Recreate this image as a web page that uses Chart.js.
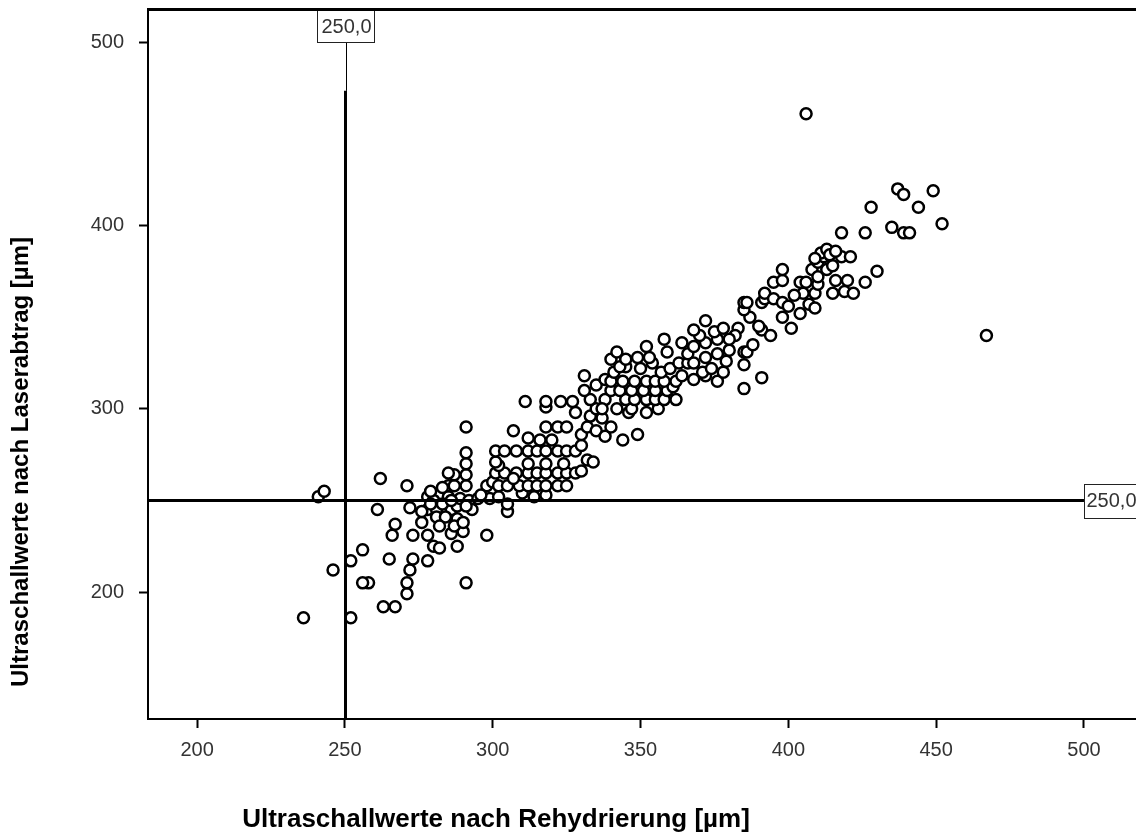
<!DOCTYPE html>
<html>
<head>
<meta charset="utf-8">
<script src="https://cdn.jsdelivr.net/npm/chart.js@4.4.1/dist/chart.umd.min.js"></script>
<style>
  html, body { margin: 0; padding: 0; background: #fff; }
  #wrap { width: 1136px; height: 834px; }
</style>
</head>
<body>
<div id="wrap"><canvas id="chart" width="1136" height="834"></canvas></div>
<script>
// Axis setup
const xTicks = [200, 250, 300, 350, 400, 450, 500];
const yTicks = [200, 300, 400, 500];
const xRange = [183.4, 517.6];
const yRange = [130.7, 517.9];
const cutValue = 250;
const cutLabel = '250,0';
const xTitle = 'Ultraschallwerte nach Rehydrierung [µm]';
const yTitle = 'Ultraschallwerte nach Laserabtrag [µm]';

const lowerPoints = [
  [236,186],[252,186],[263,192],[267,192],[258,205],[256,205],[271,199],[271,205],[291,205],
  [246,212],[272,212],[252,217],[265,218],[273,218],[278,217],[256,223],[280,225],[282,224],
  [288,225],[266,231],[273,231],[278,231],[286,232],[290,233],[298,231],[267,237],[276,238],
  [288,240],[261,245],[272,246],[278,245],[281,245],[286,245],[276,244],[281,241],[288,247],
  [241,252],[243,255],[278,252],[285,252],[280,250],[283,248],[289,251],[292,250],[295,251],
  [262,262],[271,258],[285,258],[287,258],[291,258],[298,258],[287,264],[291,264],[285,265],
  [291,270],[291,276],[291,290],[299,251],[296,253],[279,255],[283,257],[284,241],[287,236],
  [290,238],[293,245],[282,236],[279,248],[286,250],[291,247]
];

const middlePoints = [
  [302,252],[305,244],[305,248],[310,254],[314,252],[318,253],[300,260],[302,258],[305,258],
  [309,258],[312,258],[315,258],[318,258],[322,258],[325,258],[301,265],[304,265],[308,265],
  [312,265],[315,265],[318,265],[322,265],[325,265],[328,265],[307,262],[312,270],[318,270],
  [324,270],[302,269],[301,271],[330,266],[332,272],[334,271],[301,277],[304,277],[308,277],
  [312,277],[315,277],[318,277],[322,277],[325,277],[328,277],[312,284],[316,283],[320,283],
  [330,280],[330,286],[307,288],[318,290],[322,290],[325,290],[332,290],[333,296],[328,298],
  [318,301],[311,304],[318,304],[323,304],[327,304],[335,300],[333,305],[331,310],[335,313],
  [331,318],[338,316],[338,305],[340,310],[335,288],[338,285],[344,283],[349,286],[340,290],
  [337,295],[337,300],[342,300],[346,298],[347,300],[352,298],[356,300],[345,305],[348,305],
  [352,305],[355,305],[358,305],[362,305],[343,310],[347,310],[351,310],[355,310],[359,310],
  [361,312],[340,315],[344,315],[348,315],[352,315],[355,315],[358,315],[362,315],[341,320],
  [357,320],[345,323],[350,322],[360,322],[343,323],[354,325],[363,325],[340,327],[345,327],
  [349,328],[353,328],[342,331],[352,334],[359,331],[358,338],[364,318]
];

const upperPoints = [
  [366,325],[366,330],[368,316],[372,318],[376,315],[371,320],[374,322],[378,320],[368,325],
  [372,328],[376,330],[379,326],[368,334],[372,336],[376,338],[364,336],[370,340],[375,342],
  [368,343],[372,348],[378,344],[383,344],[380,332],[382,340],[380,338],[385,331],[385,324],
  [391,317],[385,311],[386,331],[388,335],[391,343],[394,340],[390,345],[387,350],[385,354],
  [385,358],[386,358],[391,358],[392,360],[392,363],[395,360],[395,369],[398,358],[398,350],
  [401,344],[398,370],[398,376],[404,369],[406,369],[405,363],[409,363],[415,363],[419,364],
  [422,363],[407,357],[409,355],[404,352],[400,356],[402,362],[410,368],[408,376],[413,376],
  [416,370],[420,370],[410,372],[415,378],[410,380],[412,383],[411,385],[413,387],[418,383],
  [421,383],[426,369],[430,375],[414,384],[416,386],[409,382]
];

const topPoints = [
  [406,461],[437,420],[439,417],[449,419],[444,410],[428,410],[452,401],[418,396],[426,396],
  [435,399],[439,396],[441,396],[467,340]
];

const allPoints = [...lowerPoints, ...middlePoints, ...upperPoints, ...topPoints]
  .map(([x, y]) => ({ x, y }));

const FONT = "Arial, 'Liberation Sans', sans-serif";

// Reference lines at 250 with boxed labels, plus the top frame line
const refLines = {
  id: 'refLines',
  afterDatasetsDraw(chart) {
    const { ctx, chartArea: a, scales: { x, y } } = chart;
    const px = Math.round(x.getPixelForValue(cutValue)) + 0.5;
    const py = Math.round(y.getPixelForValue(cutValue)) + 0.5;
    ctx.save();
    ctx.strokeStyle = '#000';

    // vertical line, thin stub up to the label box
    const boxBottom = y.getPixelForValue(500);
    const thickTop = y.getPixelForValue(473.5);
    ctx.lineWidth = 3;
    ctx.beginPath();
    ctx.moveTo(px, a.bottom);
    ctx.lineTo(px, thickTop);
    ctx.stroke();
    ctx.lineWidth = 1;
    ctx.beginPath();
    ctx.moveTo(px + 1, thickTop);
    ctx.lineTo(px + 1, boxBottom);
    ctx.stroke();

    // horizontal line up to x = 500
    const lineEnd = x.getPixelForValue(500);
    ctx.lineWidth = 3;
    ctx.beginPath();
    ctx.moveTo(a.left, py);
    ctx.lineTo(lineEnd, py);
    ctx.stroke();

    ctx.font = '20px ' + FONT;
    ctx.textBaseline = 'middle';
    ctx.fillStyle = '#fff';
    ctx.lineWidth = 1;
    ctx.strokeStyle = '#222';

    // top label box
    const w1 = 57, h1 = 32;
    const bx = Math.round(px - w1 / 2) + 0.5, by = Math.round(boxBottom - h1) + 0.5;
    ctx.fillRect(bx, by, w1, h1);
    ctx.strokeRect(bx, by, w1, h1);
    ctx.fillStyle = '#333';
    ctx.textAlign = 'center';
    ctx.fillText(cutLabel, px + 1, by + h1 / 2 + 1);

    // right label box
    const h2 = 34;
    const rx = Math.round(lineEnd) + 0.5, ry = Math.round(py - h2 / 2) + 0.5;
    ctx.fillStyle = '#fff';
    ctx.fillRect(rx, ry, 80, h2);
    ctx.strokeRect(rx, ry, 80, h2);
    ctx.fillStyle = '#333';
    ctx.textAlign = 'left';
    ctx.fillText(cutLabel, rx + 2, py + 1);

    // top frame line
    ctx.strokeStyle = '#000';
    ctx.lineWidth = 3;
    ctx.beginPath();
    ctx.moveTo(a.left - 1, a.top);
    ctx.lineTo(a.right, a.top);
    ctx.stroke();
    ctx.restore();
  },
  afterDraw(chart) {
    const { ctx } = chart;
    ctx.save();
    ctx.fillStyle = '#000';
    ctx.textBaseline = 'alphabetic';
    ctx.textAlign = 'center';
    ctx.font = 'bold 26px ' + FONT;
    ctx.fillText(xTitle, 496, 827);
    ctx.font = 'bold 24px ' + FONT;
    ctx.translate(28, 462);
    ctx.rotate(-Math.PI / 2);
    ctx.fillText(yTitle, 0, 0);
    ctx.restore();
  }
};

new Chart(document.getElementById('chart'), {
  type: 'scatter',
  data: {
    datasets: [{
      data: allPoints,
      pointStyle: 'circle',
      pointRadius: 5.5,
      pointBorderWidth: 2.5,
      pointBorderColor: '#000',
      pointBackgroundColor: '#fff'
    }]
  },
  options: {
    responsive: false,
    devicePixelRatio: 1,
    animation: false,
    layout: { autoPadding: false, padding: { top: 9.5, right: 0, bottom: 0, left: 0 } },
    plugins: {
      legend: { display: false },
      title: { display: false },
      tooltip: { enabled: false }
    },
    scales: {
      x: {
        type: 'linear',
        min: xRange[0],
        max: xRange[1],
        afterBuildTicks: (s) => { s.ticks = xTicks.map(v => ({ value: v })); },
        afterFit: (s) => { s.height = 115; s.paddingLeft = 0; s.paddingRight = 0; },
        grid: { drawOnChartArea: false, drawTicks: true, tickLength: 9, tickWidth: 2, tickColor: '#000' },
        border: { display: true, color: '#000', width: 2 },
        ticks: { color: '#333', font: { family: FONT, size: 20 }, padding: 10, maxRotation: 0 }
      },
      y: {
        type: 'linear',
        min: yRange[0],
        max: yRange[1],
        afterBuildTicks: (s) => { s.ticks = yTicks.map(v => ({ value: v })); },
        afterFit: (s) => { s.width = 148; s.paddingTop = 0; s.paddingBottom = 0; },
        grid: { drawOnChartArea: false, drawTicks: true, tickLength: 9, tickWidth: 2, tickColor: '#000' },
        border: { display: true, color: '#000', width: 2 },
        ticks: { color: '#333', font: { family: FONT, size: 20 }, padding: 15 }
      }
    }
  },
  plugins: [refLines]
});
</script>
</body>
</html>
